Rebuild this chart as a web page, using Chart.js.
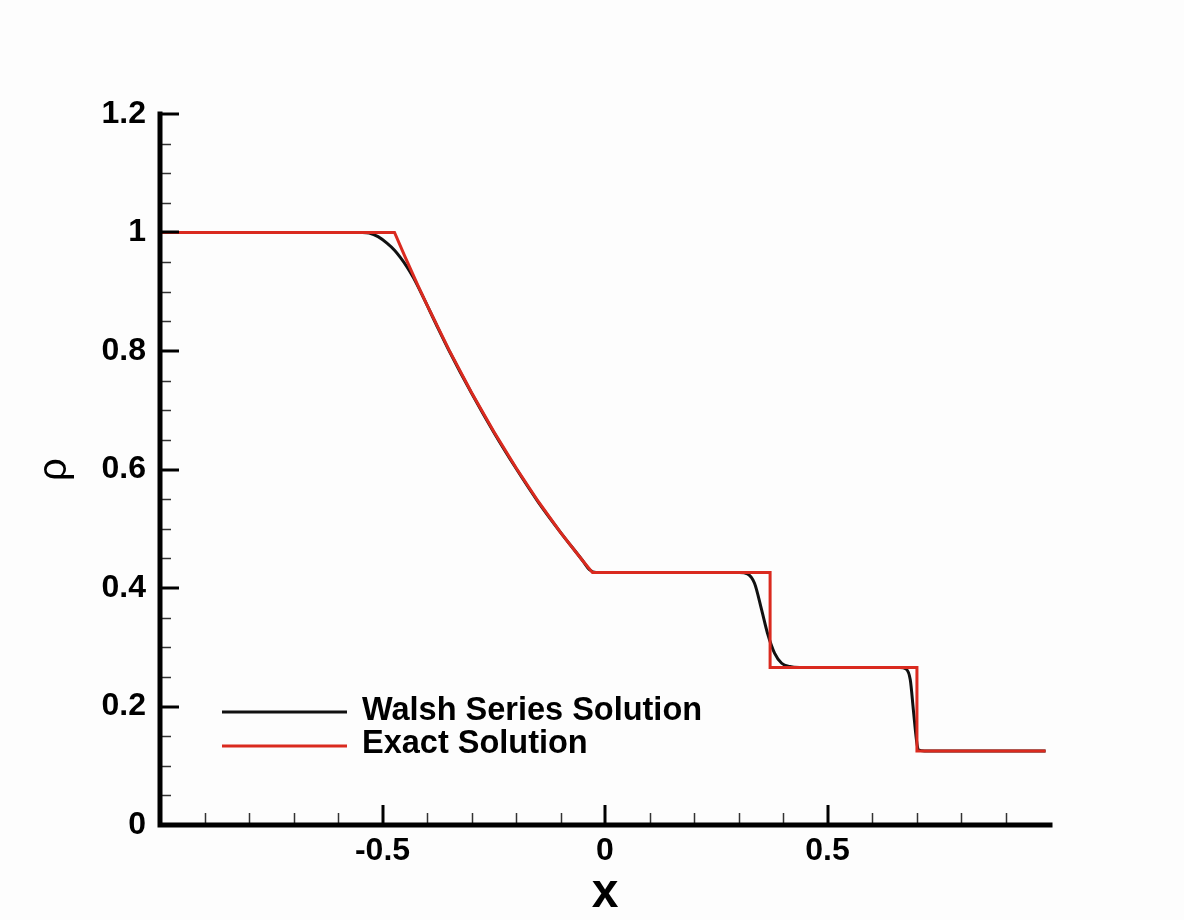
<!DOCTYPE html>
<html>
<head>
<meta charset="utf-8">
<title>Density profile</title>
<script src="https://cdn.jsdelivr.net/npm/chart.js@4.4.1/dist/chart.umd.min.js"></script>
<style>
  html, body { margin: 0; padding: 0; background: #fdfdfd; }
  canvas { display: block; }
</style>
</head>
<body>
<canvas id="chart" width="1184" height="920"></canvas>
<script>
// Walsh series approximation of the density
const walshX = [-1, -0.545, -0.53, -0.51, -0.49, -0.473, -0.46, -0.445, -0.43, -0.408, -0.38, -0.35, -0.3, -0.25, -0.2, -0.15, -0.1, -0.05, -0.035, -0.02,
                0.302, 0.320, 0.336, 0.352, 0.365, 0.381, 0.397, 0.415, 0.437,
                0.662, 0.677, 0.686, 0.693, 0.700, 0.704, 0.718, 0.99];
const walshRho = [1, 1, 0.999, 0.993, 0.982, 0.970, 0.958, 0.942, 0.923, 0.890, 0.846, 0.800, 0.729, 0.663, 0.602, 0.545, 0.494, 0.446, 0.431, 0.426,
                  0.426, 0.424, 0.408, 0.363, 0.324, 0.290, 0.273, 0.2675, 0.266,
                  0.266, 0.263, 0.245, 0.194, 0.143, 0.127, 0.125, 0.125];

// Exact Riemann solution
const exactX = [-1, -0.473, -0.45, -0.42, -0.4, -0.35, -0.3, -0.25, -0.2, -0.15, -0.1, -0.05, -0.028,
                0.371, 0.371, 0.701, 0.701, 0.99];
const exactRho = [1, 1, 0.960, 0.910, 0.878, 0.801, 0.730, 0.664, 0.603, 0.546, 0.494, 0.446, 0.426,
                  0.426, 0.266, 0.266, 0.125, 0.125];

const seriesNames = ['Walsh Series Solution', 'Exact Solution'];
const seriesColors = ['#111111', '#da2a1f'];

// Axis ticks
const xMajorTicks = [-0.5, 0, 0.5];
const xTickLabels = ['-0.5', '0', '0.5'];
const xMinorTicks = [-0.9, -0.8, -0.7, -0.6, -0.4, -0.3, -0.2, -0.1, 0.1, 0.2, 0.3, 0.4, 0.6, 0.7, 0.8, 0.9];
const yMajorTicks = [0, 0.2, 0.4, 0.6, 0.8, 1, 1.2];
const yTickLabels = ['0', '0.2', '0.4', '0.6', '0.8', '1', '1.2'];
const yMinorTicks = [0.05, 0.1, 0.15, 0.25, 0.3, 0.35, 0.45, 0.5, 0.55, 0.65, 0.7, 0.75, 0.85, 0.9, 0.95, 1.05, 1.1, 1.15];

const FONT = '"Liberation Sans", Arial, Helvetica, sans-serif';

const toPoints = (xs, ys) => xs.map((x, i) => ({ x: x, y: ys[i] }));

// Axis lines, inward tick marks and the in-plot legend
const framePlugin = {
  id: 'frame',
  afterDatasetsDraw(chart) {
    const ctx = chart.ctx;
    const xs = chart.scales.x, ys = chart.scales.y;
    const x0 = xs.getPixelForValue(xs.min), x1 = xs.getPixelForValue(xs.max);
    const y0 = ys.getPixelForValue(ys.min), y1 = ys.getPixelForValue(ys.max);
    ctx.save();
    ctx.lineCap = 'butt';

    // minor ticks
    ctx.lineWidth = 1.5;
    ctx.strokeStyle = '#333';
    xMinorTicks.forEach(v => {
      const px = Math.round(xs.getPixelForValue(v)) + 0.5;
      ctx.beginPath(); ctx.moveTo(px, y0); ctx.lineTo(px, y0 - 12); ctx.stroke();
    });
    yMinorTicks.forEach(v => {
      const py = Math.round(ys.getPixelForValue(v)) + 0.5;
      ctx.beginPath(); ctx.moveTo(x0, py); ctx.lineTo(x0 + 11, py); ctx.stroke();
    });

    // major ticks
    ctx.strokeStyle = '#000';
    ctx.lineWidth = 3;
    xMajorTicks.forEach(v => {
      const px = Math.round(xs.getPixelForValue(v));
      ctx.beginPath(); ctx.moveTo(px, y0); ctx.lineTo(px, y0 - 20); ctx.stroke();
    });
    yMajorTicks.forEach(v => {
      const py = Math.round(ys.getPixelForValue(v));
      ctx.beginPath(); ctx.moveTo(x0, py); ctx.lineTo(x0 + 19, py); ctx.stroke();
    });

    // axis lines
    ctx.lineWidth = 5;
    ctx.lineCap = 'square';
    ctx.beginPath();
    ctx.moveTo(x0, y1);
    ctx.lineTo(x0, y0);
    ctx.lineTo(x1, y0);
    ctx.stroke();

    // legend
    const items = [
      { name: seriesNames[0], color: seriesColors[0], y: 712, base: 720 },
      { name: seriesNames[1], color: seriesColors[1], y: 746, base: 753 }
    ];
    ctx.lineCap = 'butt';
    ctx.font = 'bold 32.5px ' + FONT;
    ctx.textBaseline = 'alphabetic';
    ctx.textAlign = 'left';
    items.forEach(it => {
      ctx.strokeStyle = it.color;
      ctx.lineWidth = 3;
      ctx.beginPath(); ctx.moveTo(222, it.y); ctx.lineTo(347, it.y); ctx.stroke();
      ctx.fillStyle = '#000';
      ctx.fillText(it.name, 362, it.base);
    });
    ctx.restore();
  }
};

const bgPlugin = {
  id: 'bg',
  beforeDraw(chart) {
    const ctx = chart.ctx;
    ctx.save();
    ctx.fillStyle = '#fdfdfd';
    ctx.fillRect(0, 0, chart.width, chart.height);
    ctx.restore();
  }
};

new Chart(document.getElementById('chart'), {
  type: 'scatter',
  data: {
    datasets: [
      {
        label: seriesNames[1],
        data: toPoints(exactX, exactRho),
        showLine: true,
        borderColor: seriesColors[1],
        borderWidth: 3,
        pointRadius: 0,
        tension: 0
      },
      {
        label: seriesNames[0],
        data: toPoints(walshX, walshRho),
        showLine: true,
        borderColor: seriesColors[0],
        borderWidth: 3,
        pointRadius: 0,
        cubicInterpolationMode: 'monotone'
      }
    ]
  },
  options: {
    responsive: false,
    animation: false,
    devicePixelRatio: 1,
    layout: { padding: { top: 114, right: 134, left: 0, bottom: 0 } },
    plugins: { legend: { display: false }, tooltip: { enabled: false } },
    scales: {
      x: {
        type: 'linear',
        min: -1,
        max: 1,
        afterBuildTicks: s => { s.ticks = xMajorTicks.map(v => ({ value: v })); },
        afterFit: s => { s.height = 95; },
        grid: { display: false, drawTicks: false },
        border: { display: false },
        ticks: {
          autoSkip: false,
          maxRotation: 0,
          padding: 7,
          color: '#000',
          font: { family: FONT, size: 32, weight: 'bold' },
          callback: (v, i) => xTickLabels[i]
        },
        title: {
          display: true,
          text: 'x',
          color: '#000',
          font: { family: FONT, size: 48, weight: 'bold', lineHeight: 1 },
          padding: { top: 0, bottom: 2 }
        }
      },
      y: {
        type: 'linear',
        min: 0,
        max: 1.2,
        afterBuildTicks: s => { s.ticks = yMajorTicks.map(v => ({ value: v })); },
        afterFit: s => { s.width = 160; },
        grid: { display: false, drawTicks: false },
        border: { display: false },
        ticks: {
          autoSkip: false,
          padding: 14,
          color: '#000',
          font: { family: FONT, size: 32, weight: 'bold' },
          callback: (v, i) => yTickLabels[i]
        },
        title: {
          display: true,
          text: 'ρ',
          color: '#000',
          font: { family: FONT, size: 40, weight: 'normal', lineHeight: 1 },
          padding: { top: 35, bottom: 0 }
        }
      }
    }
  },
  plugins: [bgPlugin, framePlugin]
});
</script>
</body>
</html>
